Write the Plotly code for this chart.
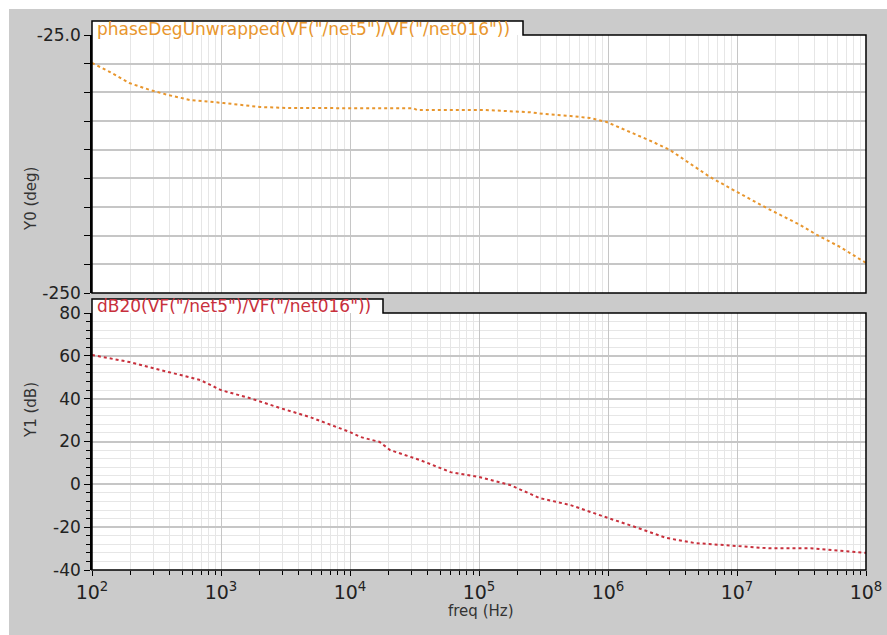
import plotly.graph_objects as go

# ---- data -------------------------------------------------------------
# frequency points (log10 Hz) and unwrapped phase (deg)
phase_logf = [2.00, 2.14, 2.29, 2.45, 2.59, 2.76, 3.02, 3.30, 3.53, 3.92, 4.49, 4.52,
              5.05, 5.40, 5.51, 5.71, 5.86, 5.99, 6.19, 6.35, 6.48, 6.69, 6.79, 7.00,
              7.23, 7.49, 7.62, 7.80, 8.00]
phase_deg = [-49.4, -57.3, -66.9, -73.0, -77.3, -81.7, -84.3, -87.8, -88.7, -88.9, -88.9, -90.4,
             -90.4, -92.4, -93.9, -95.6, -97.4, -100.9, -110.5, -118.3, -125.3, -141.0, -148.8, -161.9,
             -175.9, -190.7, -199.4, -209.9, -223.8]

# frequency points (log10 Hz) and magnitude (dB)
mag_logf = [2.00, 2.29, 2.53, 2.68, 2.84, 3.00, 3.22, 3.46, 3.69, 4.00, 4.08, 4.23, 4.31,
            4.54, 4.78, 5.00, 5.24, 5.47, 5.71, 6.00, 6.10, 6.21, 6.45, 6.67, 7.00,
            7.25, 7.57, 7.83, 8.00]
mag_db = [60.4, 57.1, 53.4, 51.0, 48.7, 44.0, 40.3, 35.6, 31.4, 24.4, 22.1, 19.8, 16.0,
          11.4, 5.7, 3.4, -0.3, -6.4, -9.7, -15.7, -17.6, -19.9, -25.0, -27.4, -28.8,
          -29.9, -29.9, -31.2, -32.0]

phase_title = 'phaseDegUnwrapped(VF("/net5")/VF("/net016"))'
mag_title = 'dB20(VF("/net5")/VF("/net016"))'

x_decades = [1e2, 1e3, 1e4, 1e5, 1e6, 1e7, 1e8]
x_ticktext = ["10<sup>2</sup>", "10<sup>3</sup>", "10<sup>4</sup>", "10<sup>5</sup>",
              "10<sup>6</sup>", "10<sup>7</sup>", "10<sup>8</sup>"]
phase_label_ticks = [-250, -25]
phase_label_text = ["-250", "-25.0"]
phase_step = 25
mag_ticks = [-40, -20, 0, 20, 40, 60, 80]
mag_ticktext = ["-40", "-20", "0", "20", "40", "60", "80"]
mag_minor_step = 4

# ---- layout helpers ---------------------------------------------------
W, H = 887, 635
def px(x):
    return x / W
def py(y):
    return 1 - y / H

X0, X1 = 92, 866
TOP = (35, 293)
BOT = (313, 570)

minor_x = [m * d for d in x_decades[:-1] for m in range(2, 10)]

ORANGE = "#e8962d"
RED = "#c8303c"
FONT = "DejaVu Sans"
MAJOR_GRID = "#c6c6c6"
MINOR_GRID = "#e6e6e6"

freq_phase = [10 ** v for v in phase_logf]
freq_mag = [10 ** v for v in mag_logf]

fig = go.Figure()
fig.add_trace(go.Scatter(x=freq_phase, y=phase_deg, mode="lines",
                         line=dict(color=ORANGE, width=2, dash="3px,3px"),
                         xaxis="x", yaxis="y", showlegend=False))
fig.add_trace(go.Scatter(x=freq_mag, y=mag_db, mode="lines",
                         line=dict(color=RED, width=2, dash="3px,3px"),
                         xaxis="x2", yaxis="y2", showlegend=False))

def x_axis(**extra):
    return dict(type="log", range=[2, 8], domain=[px(X0), px(X1)],
                showline=False, zeroline=False, automargin=False,
                tickvals=x_decades, gridcolor=MAJOR_GRID, gridwidth=1,
                **extra)

fig.update_layout(
    width=W, height=H,
    margin=dict(l=0, r=0, t=0, b=0, pad=0, autoexpand=False),
    paper_bgcolor="#cbcbcb",
    plot_bgcolor="white",
    font=dict(family=FONT, color="#222222"),
    xaxis=x_axis(anchor="y", showticklabels=False, ticks="",
                 minor=dict(tickmode="array", tickvals=minor_x, showgrid=True,
                            gridcolor=MINOR_GRID, gridwidth=1, ticks="")),
    xaxis2=x_axis(anchor="y2", ticktext=x_ticktext, ticks="outside",
                  ticklen=5, tickwidth=1, tickcolor="black",
                  tickfont=dict(size=19, color="#222222"),
                  minor=dict(tickmode="array", tickvals=minor_x, showgrid=True,
                             gridcolor=MINOR_GRID, gridwidth=1, ticks="outside",
                             ticklen=4, tickcolor="black")),
    yaxis=dict(range=[-250, -25], domain=[py(TOP[1]), py(TOP[0])], anchor="x",
               tickvals=phase_label_ticks, ticktext=phase_label_text,
               ticks="outside", ticklen=6, tickwidth=1, tickcolor="black",
               showline=True, linecolor="black", linewidth=1.5,
               gridcolor=MAJOR_GRID, gridwidth=1.5, zeroline=False, automargin=False,
               tickfont=dict(size=17),
               minor=dict(dtick=phase_step, tick0=-250, ticks="outside", ticklen=6,
                          tickcolor="black", showgrid=True,
                          gridcolor=MAJOR_GRID, gridwidth=1.5)),
    yaxis2=dict(range=[-40, 80], domain=[py(BOT[1]), py(BOT[0])], anchor="x2",
                tickvals=mag_ticks, ticktext=mag_ticktext,
                ticks="outside", ticklen=6, tickwidth=1, tickcolor="black",
                showline=True, linecolor="black", linewidth=1.5,
                gridcolor=MAJOR_GRID, gridwidth=1.5, zeroline=False, automargin=False,
                tickfont=dict(size=17),
                minor=dict(dtick=mag_minor_step, ticks="outside", ticklen=4,
                           tickcolor="black", showgrid=True,
                           gridcolor=MINOR_GRID, gridwidth=1)),
)

def frame_path(tab_right, top, bottom, tab_h=14):
    pts = [(X0, top - tab_h), (tab_right, top - tab_h), (tab_right, top),
           (X1, top), (X1, bottom), (X0, bottom)]
    return "M " + " L ".join(f"{px(a):.5f},{py(b):.5f}" for a, b in pts) + " Z"

shapes = [
    # white margins along the top and left edges
    dict(type="rect", xref="paper", yref="paper", x0=0, x1=1, y0=py(9), y1=1,
         fillcolor="white", line=dict(width=0), layer="below"),
    dict(type="rect", xref="paper", yref="paper", x0=0, x1=px(9), y0=0, y1=1,
         fillcolor="white", line=dict(width=0), layer="below"),
]
for tab_right, (top, bottom) in [(523, TOP), (383, BOT)]:
    path = frame_path(tab_right, top, bottom)
    shapes.append(dict(type="path", path=path, xref="paper", yref="paper",
                       fillcolor="white", line=dict(width=0), layer="below"))
    shapes.append(dict(type="path", path=path, xref="paper", yref="paper",
                       fillcolor="rgba(0,0,0,0)", line=dict(color="black", width=1.5),
                       layer="above"))
fig.update_layout(shapes=shapes)

annotations = [
    dict(text=phase_title, x=px(95), y=py(29), xref="paper", yref="paper",
         xanchor="left", yanchor="middle", showarrow=False,
         font=dict(size=17, color=ORANGE, family=FONT)),
    dict(text=mag_title, x=px(95), y=py(306), xref="paper", yref="paper",
         xanchor="left", yanchor="middle", showarrow=False,
         font=dict(size=17, color=RED, family=FONT)),
    dict(text="Y0 (deg)", x=px(20), y=py(165), xref="paper", yref="paper",
         textangle=-90, showarrow=False, font=dict(size=15, color="#333333")),
    dict(text="Y1 (dB)", x=px(20), y=py(440), xref="paper", yref="paper",
         textangle=-90, showarrow=False, font=dict(size=15, color="#333333")),
    dict(text="freq (Hz)", x=px(481), y=py(622), xref="paper", yref="paper",
         showarrow=False, font=dict(size=15, color="#333333")),
]
fig.update_layout(annotations=annotations)

fig.write_html("out.html")
